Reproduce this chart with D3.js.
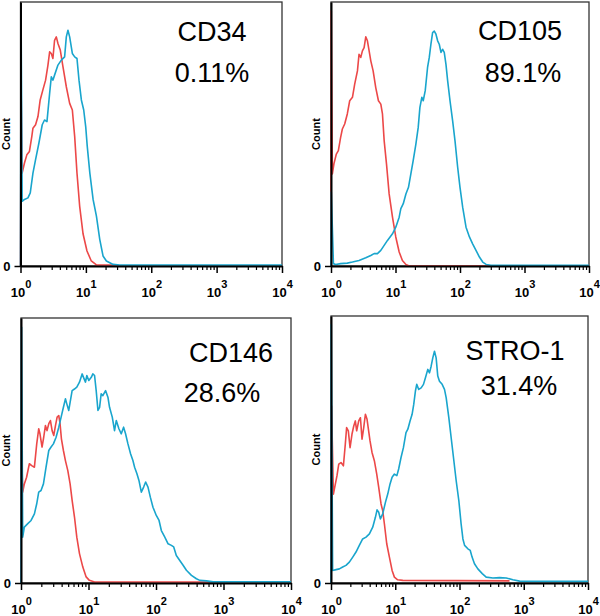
<!DOCTYPE html>
<html>
<head>
<meta charset="utf-8">
<script src="https://cdn.jsdelivr.net/npm/d3@7"></script>
<style>
  html, body { margin: 0; padding: 0; background: #fff; }
  svg { display: block; }
</style>
</head>
<body>
<svg id="chart" width="600" height="616"></svg>
<script>

/* Data : [intensity, count] (count en % du max de l'axe)
-------------------------------------------------------------------------------------------------*/
const markers = ["CD34", "CD105", "CD146", "STRO-1"]
const positives = ["0.11%", "89.1%", "28.6%", "31.4%"]
const decades = [1, 10, 100, 1000, 10000]

const cd34Iso = [[1,0],[1.02,69.2],[1.06,35.2],[1.15,39.0],[1.25,42.1],[1.37,43.4],[1.49,49.1],[1.55,52.2],[1.70,53.5],[1.85,56.6],[2.00,62.9],[2.20,66.7],[2.42,70.4],[2.63,76.1],[2.79,81.1],[2.96,80.5],[3.13,78.6],[3.32,85.5],[3.53,86.8],[3.74,84.3],[4.06,81.8],[4.46,75.5],[5.02,67.9],[5.65,61.6],[6.21,59.1],[6.74,49.1],[7.31,35.2],[8.04,22.6],[9.05,12.2],[10.4,5.7],[12.1,1.9],[14.5,0.4],[30,0.4]]
const cd34Stain = [[1,0],[1.02,96.9],[1.06,24.5],[1.15,25.2],[1.30,25.8],[1.41,27.7],[1.55,35.2],[1.70,40.3],[1.91,46.5],[2.15,53.5],[2.33,55.3],[2.54,54.7],[2.79,65.4],[2.96,71.7],[3.13,70.4],[3.32,72.3],[3.74,76.1],[4.21,78.0],[4.73,79.2],[5.02,86.8],[5.32,89.3],[5.65,86.8],[6.21,80.5],[6.74,79.2],[7.31,78.6],[7.85,70.4],[8.53,62.9],[9.27,59.1],[9.94,52.8],[10.5,45.3],[11.5,35.2],[12.9,25.2],[14.5,18.9],[16.3,10.1],[18.3,3.8],[20.6,1.9],[26.1,0.6],[33,0.4],[10000,0.4]]

const cd105Iso = [[1,0],[1.01,96.6],[1.05,34.9],[1.11,38.7],[1.21,42.4],[1.30,43.7],[1.41,48.7],[1.50,51.9],[1.63,53.8],[1.79,57.6],[1.95,62.6],[2.15,63.9],[2.33,68.9],[2.57,73.9],[2.72,80.2],[2.89,79.0],[3.07,81.5],[3.26,82.7],[3.46,86.8],[3.67,85.3],[3.90,81.5],[4.14,77.7],[4.50,73.9],[4.94,67.6],[5.44,62.6],[5.92,61.3],[6.28,57.6],[6.67,47.5],[7.25,38.7],[7.97,27.3],[8.98,18.5],[10.1,11.0],[11.4,5.3],[12.8,2.1],[14.5,0.6],[16.3,0],[300,0]]
const cd105Stain = [[1,0],[1.01,28.0],[1.09,0.9],[1.18,0.6],[1.41,0.9],[1.79,1.1],[2.15,1.5],[2.72,2.1],[3.46,3.1],[4.14,4.0],[4.66,4.7],[5.25,4.7],[5.92,5.9],[6.67,7.8],[7.51,9.7],[8.98,12.2],[10.1,14.7],[11.4,18.5],[12.1,21.7],[13.2,23.6],[14.5,27.3],[15.9,29.8],[17.3,34.9],[18.8,39.9],[20.7,46.2],[22.5,52.5],[23.9,60.1],[25.6,63.9],[26.9,62.6],[28.9,66.4],[31.4,75.2],[33.4,79.0],[35.4,84.0],[37.6,88.4],[39.9,89.0],[42.4,87.8],[45.0,85.3],[47.7,84.0],[50.7,80.9],[53.8,82.1],[57.0,80.9],[60.6,76.4],[64.3,70.2],[70.0,62.6],[76.9,55.0],[83.6,47.5],[92.0,37.4],[100,29.8],[110,22.3],[124,14.7],[140,11.0],[157,8.4],[177,5.9],[200,3.4],[225,1.5],[254,0.6],[303,0.3],[10000,0.3]]

const cd146Iso = [[1,0],[1.02,50.0],[1.06,34.3],[1.12,37.4],[1.21,39.9],[1.33,45.0],[1.44,44.3],[1.58,43.7],[1.71,52.5],[1.83,58.2],[1.91,56.3],[2.05,51.3],[2.17,55.0],[2.30,59.4],[2.43,57.5],[2.58,60.1],[2.73,61.3],[2.89,57.5],[3.06,55.7],[3.24,59.4],[3.43,62.6],[3.63,63.2],[3.79,60.1],[3.97,54.4],[4.25,50.0],[4.55,46.2],[4.93,42.5],[5.34,37.4],[5.72,31.2],[6.20,24.9],[6.71,17.3],[7.35,11.1],[8.24,6.0],[9.23,2.3],[10.3,1.0],[12.3,0.4],[600,0.4]]
const cd146Stain = [[1,0],[1.02,96.5],[1.06,17.3],[1.12,21.1],[1.26,22.4],[1.41,23.6],[1.58,26.1],[1.71,29.9],[1.83,34.3],[1.98,34.9],[2.15,37.4],[2.35,43.7],[2.58,50.0],[2.79,51.3],[3.02,52.5],[3.31,55.0],[3.63,58.8],[3.93,62.6],[4.25,66.3],[4.55,69.5],[4.77,67.6],[5.10,65.1],[5.34,68.2],[5.72,72.6],[6.20,73.2],[6.71,73.9],[7.35,75.8],[8.05,78.9],[8.43,77.6],[9.02,75.8],[9.45,78.3],[10.1,76.4],[11.0,77.6],[11.6,78.9],[12.3,78.3],[13.0,72.6],[13.8,65.1],[14.6,66.3],[15.4,71.4],[16.3,70.7],[17.9,72.6],[19.4,70.1],[20.5,66.3],[22.5,62.6],[24.3,57.5],[25.8,61.3],[28.2,58.2],[30.6,56.3],[33.1,58.8],[35.4,56.3],[38.4,52.5],[42.1,48.7],[45.5,46.2],[48.2,43.7],[52.2,41.2],[55.9,38.7],[60.6,34.3],[65.6,36.2],[70.3,38.1],[76.1,36.2],[82.4,32.4],[90.2,28.6],[101,25.5],[111,23.6],[120,19.8],[135,17.3],[151,14.8],[169,14.2],[183,13.6],[200,10.4],[225,8.5],[252,6.7],[282,4.8],[335,2.9],[397,1.6],[445,1.0],[559,0.8],[703,0.5],[10000,0.5]]

const stro1Iso = [[1,0],[1.02,66.3],[1.09,33.3],[1.17,37.1],[1.24,40.2],[1.32,44.5],[1.43,45.1],[1.56,43.9],[1.67,52.0],[1.75,58.2],[1.86,57.0],[1.98,50.7],[2.12,55.7],[2.26,58.8],[2.39,60.7],[2.51,57.0],[2.70,60.7],[2.87,61.9],[3.04,53.9],[3.23,58.2],[3.43,63.2],[3.64,61.3],[3.82,57.6],[4.05,53.2],[4.35,48.9],[4.73,45.8],[5.15,40.8],[5.53,35.8],[6.01,29.6],[6.38,27.1],[6.78,22.1],[7.37,14.7],[8.11,9.7],[8.93,4.7],[9.70,2.2],[10.9,1.2],[13.1,1.0],[600,0.8]]
const stro1Stain = [[1,0],[1.01,96.8],[1.06,4.7],[1.20,5.0],[1.35,5.3],[1.52,6.0],[1.71,6.6],[1.93,7.8],[2.18,9.7],[2.45,11.6],[2.76,14.1],[3.11,16.5],[3.51,17.2],[3.96,18.4],[4.46,20.9],[4.91,24.6],[5.21,27.4],[5.53,26.5],[5.87,24.0],[6.38,25.9],[7.03,30.2],[7.64,33.3],[8.30,37.1],[8.93,39.6],[9.70,40.8],[10.6,40.2],[11.3,42.7],[12.3,47.0],[13.4,50.7],[14.7,56.3],[15.7,57.6],[17.0,60.7],[18.3,63.2],[19.4,66.9],[20.6,71.9],[21.6,74.4],[23.2,72.5],[25.3,73.1],[27.5,74.4],[29.5,76.9],[32.1,80.0],[34.1,78.7],[36.2,81.2],[38.4,84.3],[40.8,86.8],[43.3,84.3],[45.9,77.5],[48.8,75.6],[53.7,74.4],[58.4,72.5],[62.0,69.4],[68.2,61.9],[74.1,54.5],[80.6,47.0],[88.8,38.3],[97.7,30.8],[106,22.1],[113,16.5],[120,14.1],[135,12.8],[147,12.2],[157,9.7],[171,7.2],[193,5.3],[226,3.5],[260,2.2],[331,1.9],[420,2.0],[534,1.9],[678,1.2],[861,0.7],[1390,0.6],[10000,0.6]]

const isotypes = [cd34Iso, cd105Iso, cd146Iso, stro1Iso]
const stained = [cd34Stain, cd105Stain, cd146Stain, stro1Stain]

/* Mise en page des 4 panneaux
-------------------------------------------------------------------------------------------------*/
const layout = [
  {left: 20.5, right: 282, top: 2, bottom: 266, nameX: 212, nameY: 41, pctX: 212, pctY: 82},
  {left: 331, right: 589, top: 2, bottom: 266, nameX: 520, nameY: 40, pctX: 523, pctY: 82},
  {left: 21, right: 291, top: 318, bottom: 583, nameX: 231, nameY: 362, pctX: 222, pctY: 402},
  {left: 331, right: 588, top: 316, bottom: 583, nameX: 515, nameY: 360, pctX: 519, pctY: 395}
]

const colors = {iso: "#ec4848", stain: "#19a5cd"}

const svg = d3.select("#chart")
  .style("font-family", "'Liberation Sans', Arial, sans-serif")

layout.forEach((p, i) => {

  const x = d3.scaleLog().domain([1, 10000]).range([p.left, p.right])
  const y = d3.scaleLinear().domain([0, 100]).range([p.bottom, p.top])

  const g = svg.append("g").attr("class", "panel")

  // Cadre
  g.append("rect")
    .attr("x", p.left)
    .attr("y", p.top)
    .attr("width", p.right - p.left)
    .attr("height", p.bottom - p.top)
    .style("fill", "none")
    .style("stroke", "#333")
    .style("stroke-width", 1.3)

  // Courbes
  const line = d3.line()
    .x(d => x(d[0]))
    .y(d => y(d[1]))

  g.append("path")
    .datum(isotypes[i])
    .style("fill", "none")
    .style("stroke", colors.iso)
    .style("stroke-width", 1.6)
    .style("stroke-linejoin", "round")
    .attr("d", line)

  g.append("path")
    .datum(stained[i])
    .style("fill", "none")
    .style("stroke", colors.stain)
    .style("stroke-width", 1.6)
    .style("stroke-linejoin", "round")
    .attr("d", line)

  // Axe des abscisses (log) : graduations majeures et mineures
  const minor = []
  decades.slice(0, -1).forEach(d => { for (let k = 2; k < 10; k++) minor.push(d * k) })

  g.append("g")
    .attr("transform", "translate(0," + p.bottom + ")")
    .call(d3.axisBottom(x).tickValues(minor).tickSize(4).tickFormat("").tickSizeOuter(0))
    .call(a => a.select(".domain").remove())
    .selectAll("line").style("stroke", "#000").style("stroke-width", 1.2)

  const xAxis = g.append("g")
    .attr("transform", "translate(0," + p.bottom + ")")
    .call(d3.axisBottom(x).tickValues(decades).tickSize(7).tickSizeOuter(0).tickFormat(""))

  xAxis.select(".domain").style("stroke", "#000").style("stroke-width", 2)
  xAxis.selectAll("line").style("stroke", "#000").style("stroke-width", 1.5)

  const lbl = xAxis.selectAll(".tick").append("text")
    .attr("y", 31)
    .attr("fill", "#000")
    .style("font-size", "13px")
    .style("font-weight", "bold")
    .attr("text-anchor", "middle")
  lbl.append("tspan").text("10")
  lbl.append("tspan")
    .attr("dy", -9)
    .style("font-size", "11px")
    .text(d => Math.round(Math.log10(d)))

  // Axe des ordonnées : seulement le 0
  const yAxis = g.append("g")
    .attr("transform", "translate(" + p.left + ",0)")
    .call(d3.axisLeft(y).tickValues([0]).tickSize(6).tickSizeOuter(0).tickPadding(4))

  yAxis.select(".domain").style("stroke", "#000").style("stroke-width", 2)
  yAxis.selectAll("line").style("stroke", "#000").style("stroke-width", 1.5)
  yAxis.selectAll("text")
    .attr("fill", "#000")
    .style("font-size", "13px")
    .style("font-weight", "bold")

  // Legende de l'axe
  g.append("text")
    .attr("transform", "translate(" + (p.left - 11) + "," + ((p.top + p.bottom) / 2) + ") rotate(-90)")
    .attr("text-anchor", "middle")
    .style("font-size", "11px")
    .style("font-weight", "bold")
    .text("Count")

  // Marqueur et pourcentage
  g.append("text")
    .attr("x", p.nameX)
    .attr("y", p.nameY)
    .attr("text-anchor", "middle")
    .style("font-size", "27px")
    .text(markers[i])

  g.append("text")
    .attr("x", p.pctX)
    .attr("y", p.pctY)
    .attr("text-anchor", "middle")
    .style("font-size", "27px")
    .text(positives[i])
})

</script>
</body>
</html>
